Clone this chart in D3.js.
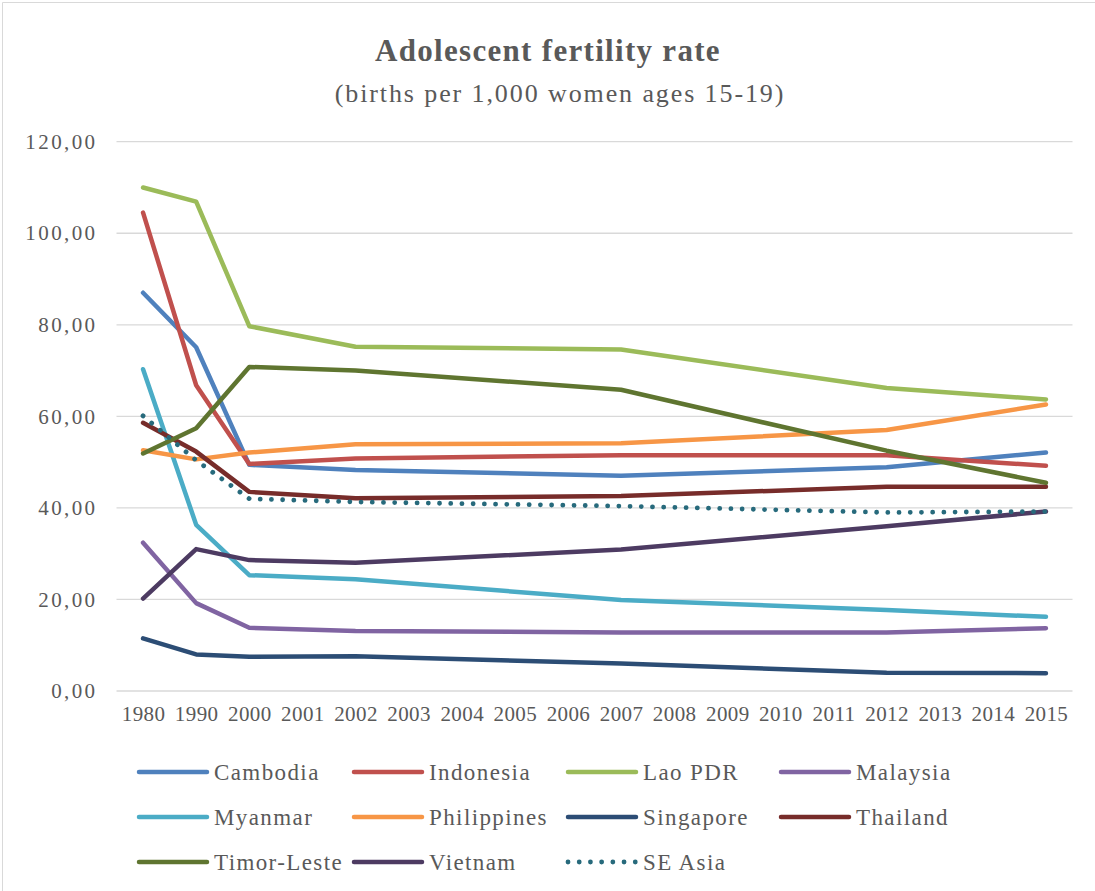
<!DOCTYPE html>
<html>
<head>
<meta charset="utf-8">
<script src="https://cdn.jsdelivr.net/npm/d3@7"></script>
<style>
  html, body { margin: 0; padding: 0; background: #fff; }
  svg { display: block; }
  text { font-family: "Liberation Serif", "DejaVu Serif", serif; fill: #595959; }
</style>
</head>
<body>
<svg id="chart" width="1095" height="891"></svg>
<script>
// Category axis: years as shown on the axis
const years = ["1980","1990","2000","2001","2002","2003","2004","2005","2006","2007",
               "2008","2009","2010","2011","2012","2013","2014","2015"];
// Years that carry observations
const obsYears = ["1980","1990","2000","2002","2007","2012","2015"];

const cambodia    = [87.0, 75.1, 49.4, 48.3, 47.0, 48.9, 52.1];
const indonesia   = [104.5, 66.8, 49.6, 50.8, 51.5, 51.5, 49.2];
const laoPDR      = [110.0, 106.9, 79.7, 75.2, 74.6, 66.2, 63.7];
const malaysia    = [32.4, 19.2, 13.8, 13.1, 12.8, 12.8, 13.7];
const myanmar     = [70.3, 36.3, 25.3, 24.4, 19.9, 17.7, 16.2];
const philippines = [52.6, 50.6, 52.1, 53.9, 54.1, 57.0, 62.6];
const singapore   = [11.5, 8.0, 7.5, 7.6, 6.0, 4.0, 3.9];
const thailand    = [58.6, 52.3, 43.5, 42.1, 42.6, 44.6, 44.6];
const timorLeste  = [51.9, 57.4, 70.8, 70.0, 65.8, 52.5, 45.5];
const vietnam     = [20.2, 31.0, 28.6, 28.0, 30.9, 36.0, 39.2];
const seAsia      = [60.1, 50.4, 42.0, 41.3, 40.4, 39.0, 39.2];

const seriesNames = ["Cambodia","Indonesia","Lao PDR","Malaysia","Myanmar","Philippines",
                     "Singapore","Thailand","Timor-Leste","Vietnam","SE Asia"];
const seriesValues = [cambodia, indonesia, laoPDR, malaysia, myanmar, philippines,
                      singapore, thailand, timorLeste, vietnam, seAsia];
const seriesColors = ["#4F81BD","#C0504D","#9BBB59","#8064A2","#4BACC6","#F79646",
                      "#2C4D75","#772C2A","#5F7530","#4D3B62","#276A7C"];

const yTicks = [0, 20, 40, 60, 80, 100, 120];

const svg = d3.select("#chart");
const serif = '"Liberation Serif", "DejaVu Serif", serif';

// chart frame (top and left edges)
svg.append("path")
  .attr("d", "M2.5,891 V2.5 H1095")
  .attr("fill", "none").attr("stroke", "#D9D9D9").attr("stroke-width", 1);

// Titles
svg.append("text")
  .attr("x", 548).attr("y", 61)
  .attr("text-anchor", "middle")
  .style("font-size", "31px").style("font-weight", "bold")
  .style("letter-spacing", "1.3px")
  .text("Adolescent fertility rate");
svg.append("text")
  .attr("x", 560).attr("y", 102)
  .attr("text-anchor", "middle")
  .style("font-size", "26px")
  .style("letter-spacing", "1.9px")
  .text("(births per 1,000 women ages 15-19)");

const plot = { left: 116.5, right: 1072.5, top: 141.7, bottom: 691 };

const x = d3.scalePoint()
  .domain(years)
  .range([plot.left, plot.right])
  .padding(0.5);

const y = d3.scaleLinear()
  .domain([0, 120])
  .range([plot.bottom, plot.top]);

// Gridlines
svg.append("g")
  .selectAll("line")
  .data(yTicks)
  .join("line")
  .attr("x1", plot.left).attr("x2", plot.right)
  .attr("y1", d => y(d)).attr("y2", d => y(d))
  .attr("stroke", "#D9D9D9").attr("stroke-width", 1.3);

// Y axis labels
const fmt = d => d3.format(".2f")(d).replace(".", ",");
const yAxis = d3.axisLeft(y).tickValues(yTicks).tickFormat(fmt).tickSize(0).tickPadding(19);
const gy = svg.append("g").attr("transform", `translate(${plot.left},0)`).call(yAxis);
gy.select(".domain").remove();
gy.selectAll("text")
  .style("font-family", serif)
  .style("font-size", "21px")
  .style("letter-spacing", "2.4px")
  .attr("fill", "#595959");

// X axis labels
const xAxis = d3.axisBottom(x).tickSize(0).tickPadding(15);
const gx = svg.append("g").attr("transform", `translate(0,${plot.bottom})`).call(xAxis);
gx.select(".domain").remove();
gx.selectAll("text")
  .style("font-family", serif)
  .style("font-size", "21px")
  .style("letter-spacing", "0.4px")
  .attr("fill", "#595959");

// Lines
const line = d3.line()
  .x(d => x(d.year))
  .y(d => y(d.value));

seriesNames.forEach((name, i) => {
  const pts = obsYears.map((yr, j) => ({ year: yr, value: seriesValues[i][j] }));
  const dotted = name === "SE Asia";
  svg.append("path")
    .datum(pts)
    .attr("d", line)
    .attr("fill", "none")
    .attr("stroke", seriesColors[i])
    .attr("stroke-width", dotted ? 4.8 : 4.5)
    .attr("stroke-linecap", "round")
    .attr("stroke-linejoin", "round")
    .attr("stroke-dasharray", dotted ? "0.01 11.2" : null);
});

// Legend
const legCols = [137, 352, 566, 779];
const legRows = [772, 817, 862];
const legend = svg.append("g");
seriesNames.forEach((name, i) => {
  const cx = legCols[i % 4], cy = legRows[Math.floor(i / 4)];
  const dotted = name === "SE Asia";
  legend.append("line")
    .attr("x1", cx + 2).attr("x2", cx + 70)
    .attr("y1", cy).attr("y2", cy)
    .attr("stroke", seriesColors[i])
    .attr("stroke-width", dotted ? 4.8 : 4.5)
    .attr("stroke-linecap", "round")
    .attr("stroke-dasharray", dotted ? "0.01 11.2" : null);
  legend.append("text")
    .attr("x", cx + 77).attr("y", cy + 8)
    .style("font-size", "23px")
    .style("letter-spacing", "1.4px")
    .text(name);
});
</script>
</body>
</html>
